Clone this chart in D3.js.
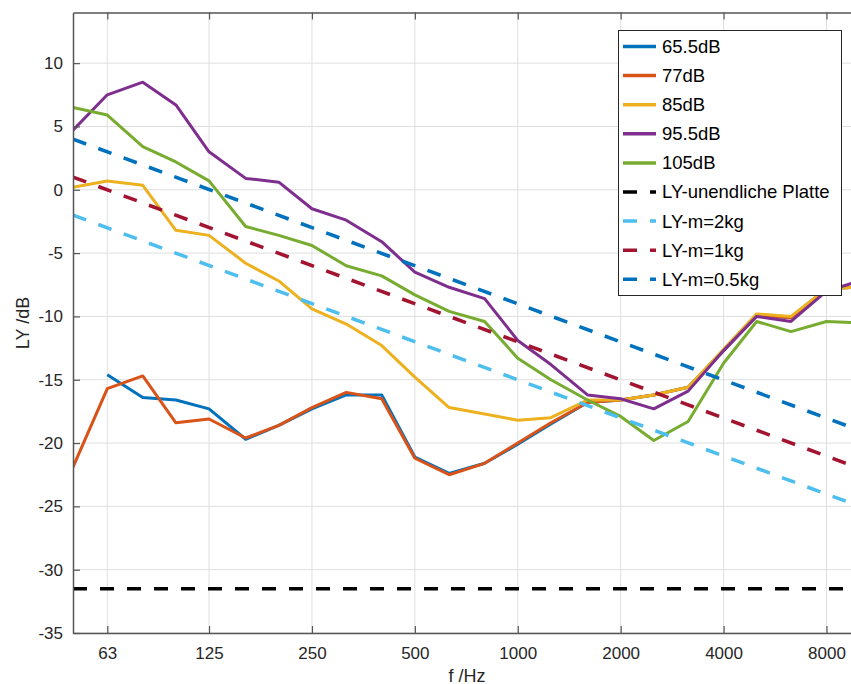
<!DOCTYPE html>
<html>
<head>
<meta charset="utf-8">
<script src="https://cdn.jsdelivr.net/npm/d3@7"></script>
<style>
  body { margin: 0; background: #fff; }
  svg { display: block; font-family: "Liberation Sans", Arial, sans-serif; }
</style>
</head>
<body>
<svg id="chart"></svg>
<script>
// third-octave band centre frequencies
const freqs = [50, 63, 80, 100, 125, 160, 200, 250, 315, 400, 500, 630, 800, 1000, 1250, 1600, 2000, 2500, 3150, 4000, 5000, 6300, 8000, 10000]

const ly655 = [null, -14.6, -16.4, -16.6, -17.3, -19.7, -18.6, -17.3, -16.2, -16.2, -21.1, -22.4, -21.6, -20.1, -18.5, -16.8, -16.6, -16.2, -15.6, -12.7, -9.9, -10.1, -7.8, -7.7]
const ly77 = [-21.9, -15.7, -14.7, -18.4, -18.1, -19.6, -18.6, -17.2, -16.0, -16.5, -21.2, -22.5, -21.6, -20.0, -18.4, -16.8, -16.6, -16.2, -15.6, -12.7, -9.9, -10.1, -7.8, -7.7]
const ly85 = [0.2, 0.7, 0.35, -3.2, -3.6, -5.8, -7.2, -9.4, -10.6, -12.3, -14.8, -17.2, -17.7, -18.2, -18.0, -16.6, -16.6, -16.2, -15.6, -12.6, -9.8, -10.0, -7.8, -7.7]
const ly955 = [4.7, 7.5, 8.5, 6.7, 3.0, 0.9, 0.6, -1.5, -2.4, -4.1, -6.5, -7.7, -8.6, -11.9, -13.8, -16.2, -16.5, -17.3, -15.9, -12.7, -10.0, -10.4, -8.0, -7.2]
const ly105 = [6.5, 5.9, 3.4, 2.2, 0.7, -2.9, -3.6, -4.4, -6.0, -6.8, -8.3, -9.6, -10.4, -13.3, -15.0, -16.6, -17.9, -19.8, -18.3, -13.7, -10.4, -11.2, -10.4, -10.5]

// reference lines, value at first and last frequency
const refFreqs = [50, 10000]
const lyPlatte = [-31.5, -31.5]
const ly2kg = [-2.0, -25.0]
const ly1kg = [1.0, -22.0]
const ly05kg = [4.0, -19.0]

const xTicks = [63, 125, 250, 500, 1000, 2000, 4000, 8000]
const yTicks = [-35, -30, -25, -20, -15, -10, -5, 0, 5, 10]

const series = [
  { name: '65.5dB', x: freqs, y: ly655, color: '#0072BD', dash: null },
  { name: '77dB', x: freqs, y: ly77, color: '#D95319', dash: null },
  { name: '85dB', x: freqs, y: ly85, color: '#EDB120', dash: null },
  { name: '95.5dB', x: freqs, y: ly955, color: '#7E2F8E', dash: null },
  { name: '105dB', x: freqs, y: ly105, color: '#77AC30', dash: null },
  { name: 'LY-unendliche Platte', x: refFreqs, y: lyPlatte, color: '#000000', dash: '14,13' },
  { name: 'LY-m=2kg', x: refFreqs, y: ly2kg, color: '#4DBEEE', dash: '14,13' },
  { name: 'LY-m=1kg', x: refFreqs, y: ly1kg, color: '#A2142F', dash: '14,13' },
  { name: 'LY-m=0.5kg', x: refFreqs, y: ly05kg, color: '#0072BD', dash: '14,13' }
]

const width = 851, height = 684
const svg = d3.select('#chart').attr('width', width).attr('height', height)

const plotLeft = 73, plotTop = 12.5, plotBottom = 633
const x = d3.scaleLog().domain([50, 10000]).range([plotLeft, 859.6])
const y = d3.scaleLinear().domain([-35, 14]).range([plotBottom, plotTop])
const plotRight = x.range()[1]

// grid
const grid = svg.append('g')
grid.selectAll('.gx').data(xTicks).enter().append('line')
  .attr('x1', d => x(d)).attr('x2', d => x(d))
  .attr('y1', plotTop).attr('y2', plotBottom)
  .attr('stroke', '#dfdfdf').attr('stroke-width', 1)
grid.selectAll('.gy').data(yTicks).enter().append('line')
  .attr('x1', plotLeft).attr('x2', plotRight)
  .attr('y1', d => y(d)).attr('y2', d => y(d))
  .attr('stroke', '#dfdfdf').attr('stroke-width', 1)

// clip for data lines
svg.append('clipPath').attr('id', 'plot')
  .append('rect').attr('x', plotLeft).attr('y', plotTop)
  .attr('width', plotRight - plotLeft).attr('height', plotBottom - plotTop)

const line = d3.line()
  .defined(d => d[1] !== null)
  .x(d => x(d[0]))
  .y(d => y(d[1]))

svg.append('g').attr('clip-path', 'url(#plot)')
  .selectAll('path')
  .data(series)
  .enter()
  .append('path')
  .attr('d', s => line(s.x.map((f, i) => [f, s.y[i]])))
  .attr('fill', 'none')
  .attr('stroke', s => s.color)
  .attr('stroke-width', s => s.dash ? 3.5 : 3)
  .attr('stroke-dasharray', s => s.dash)
  .attr('stroke-linejoin', 'round')

// axes
const axisColor = '#555'
const xAxis = svg.append('g').attr('transform', `translate(0,${plotBottom})`)
  .call(d3.axisBottom(x).tickValues(xTicks).tickFormat(d => String(d)).tickSizeInner(-7).tickSizeOuter(0).tickPadding(14))
const xTop = svg.append('g').attr('transform', `translate(0,${plotTop})`)
  .call(d3.axisTop(x).tickValues(xTicks).tickFormat('').tickSizeInner(-7).tickSizeOuter(0))
const yAxis = svg.append('g').attr('transform', `translate(${plotLeft},0)`)
  .call(d3.axisLeft(y).tickValues(yTicks).tickFormat(d => String(d)).tickSizeInner(-7).tickSizeOuter(0).tickPadding(10))

;[xAxis, xTop, yAxis].forEach(a => {
  a.select('.domain').attr('stroke', axisColor).attr('stroke-width', 1.5)
  a.selectAll('.tick line').attr('stroke', axisColor).attr('stroke-width', 1.2)
  a.selectAll('.tick text').attr('fill', '#262626').style('font-size', '17px')
})

// axis labels
svg.append('text')
  .attr('x', 467).attr('y', 682)
  .attr('text-anchor', 'middle')
  .attr('fill', '#262626')
  .style('font-size', '18px')
  .text('f /Hz')

svg.append('text')
  .attr('transform', 'translate(29,323) rotate(-90)')
  .attr('text-anchor', 'middle')
  .attr('fill', '#262626')
  .style('font-size', '18px')
  .text('LY /dB')

// legend
const legend = svg.append('g')
legend.append('rect')
  .attr('x', 618.5).attr('y', 30.5)
  .attr('width', 223).attr('height', 265)
  .attr('fill', '#fff')
  .attr('stroke', '#262626').attr('stroke-width', 1)

const rowY = i => 46.5 + i * 29.1
legend.selectAll('.lg-line').data(series).enter().append('line')
  .attr('x1', 623).attr('x2', 656)
  .attr('y1', (d, i) => rowY(i)).attr('y2', (d, i) => rowY(i))
  .attr('stroke', d => d.color)
  .attr('stroke-width', 3.5)
  .attr('stroke-dasharray', d => d.dash)
legend.selectAll('.lg-text').data(series).enter().append('text')
  .attr('x', 662).attr('y', (d, i) => rowY(i))
  .attr('dy', '0.35em')
  .attr('fill', '#000')
  .style('font-size', '18.5px')
  .text(d => d.name)
</script>
</body>
</html>
